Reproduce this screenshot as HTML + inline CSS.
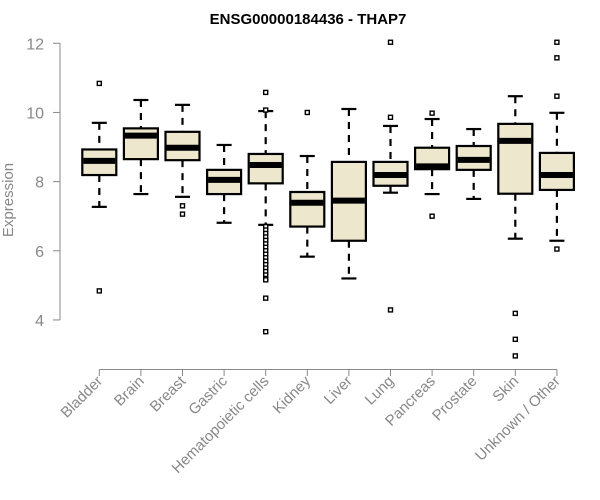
<!DOCTYPE html>
<html><head><meta charset="utf-8"><style>
body{margin:0;background:#fff;}
svg{display:block;font-family:"Liberation Sans",Arial,sans-serif;}
</style></head><body>
<svg id="chart" width="600" height="500" viewBox="0 0 600 500">
<text x="308" y="24" text-anchor="middle" font-weight="bold" font-size="15" fill="#000">ENSG00000184436 - THAP7</text>
<text transform="translate(13,200) rotate(-90)" text-anchor="middle" font-size="15" fill="#888">Expression</text>
<g id="plot"></g>
</svg>
<script>
const categories=["Bladder","Brain","Breast","Gastric","Hematopoietic cells","Kidney","Liver","Lung","Pancreas","Prostate","Skin","Unknown / Other"];
const whiskerLow=[7.27,7.64,7.56,6.81,6.75,5.83,5.20,7.68,7.64,7.50,6.35,6.29];
const boxLow=[8.19,8.65,8.62,7.64,7.95,6.70,6.29,7.88,8.36,8.34,7.65,7.76];
const medians=[8.60,9.33,8.98,8.05,8.48,7.39,7.45,8.19,8.44,8.63,9.18,8.19];
const boxHigh=[8.93,9.54,9.44,8.34,8.80,7.70,8.57,8.57,8.98,9.03,9.67,8.83];
const whiskerHigh=[9.70,10.36,10.22,9.06,10.04,8.74,10.10,9.61,9.81,9.52,10.47,9.99];
const outliers=[[10.84,4.84],[],[7.30,7.06],[],[10.58,10.07,6.70,6.6,6.5,6.4,6.3,6.2,6.1,6.0,5.9,5.8,5.7,5.6,5.5,5.4,5.3,5.2,5.16,4.63,3.66],[10.0],[],[12.03,9.86,4.29],[9.98,7.0],[],[4.19,3.44,2.96],[12.03,11.58,10.47,6.05]];
const yTicks=[4,6,8,10,12];
const NS="http://www.w3.org/2000/svg";
const g=document.getElementById("plot");
const yScale=v=>43.3+(12-v)*34.58;
const xScale=i=>99.3+41.6*i;
function mk(tag,attrs,parent){const e=document.createElementNS(NS,tag);for(const k in attrs)e.setAttribute(k,attrs[k]);(parent||g).appendChild(e);return e;}
// y axis
const ya=mk("g",{});


mk("line",{x1:60,x2:60,y1:yScale(12),y2:yScale(4),stroke:"#888","stroke-width":1},ya);
yTicks.forEach(t=>{
  mk("line",{x1:53,x2:60,y1:yScale(t),y2:yScale(t),stroke:"#888"},ya);
  const tx=mk("text",{x:44,y:yScale(t)+6,"text-anchor":"end","font-size":16,fill:"#888"},ya);
  tx.textContent=t;
  
  
});
// x axis
const xa=mk("g",{});


mk("line",{x1:xScale(0),x2:xScale(categories.length-1),y1:369.5,y2:369.5,stroke:"#888"},xa);
categories.forEach((c,i)=>{
  const x=xScale(i);
  mk("line",{x1:x,x2:x,y1:369.5,y2:376,stroke:"#888"},xa);
  const tx=mk("text",{transform:`translate(${x+4},${382}) rotate(-45)`,"text-anchor":"end","font-size":15,fill:"#888"},xa);
  tx.textContent=c;
  
  
});
// boxes
categories.forEach((c,i)=>{
  const x=xScale(i);
  const bg=mk("g",{});
  
  
  mk("line",{x1:x,x2:x,y1:yScale(whiskerHigh[i]),y2:yScale(boxHigh[i]),stroke:"#000","stroke-width":2.2,"stroke-dasharray":"7,6"},bg);
  mk("line",{x1:x,x2:x,y1:yScale(boxLow[i]),y2:yScale(whiskerLow[i]),stroke:"#000","stroke-width":2.2,"stroke-dasharray":"7,6"},bg);
  mk("line",{x1:x-7.5,x2:x+7.5,y1:yScale(whiskerHigh[i]),y2:yScale(whiskerHigh[i]),stroke:"#000","stroke-width":2.2},bg);
  mk("line",{x1:x-7.5,x2:x+7.5,y1:yScale(whiskerLow[i]),y2:yScale(whiskerLow[i]),stroke:"#000","stroke-width":2.2},bg);
  mk("rect",{x:x-17,y:yScale(boxHigh[i]),width:34,height:yScale(boxLow[i])-yScale(boxHigh[i]),fill:"#ede7cd",stroke:"#000","stroke-width":2.2},bg);
  mk("line",{x1:x-16,x2:x+16,y1:yScale(medians[i]),y2:yScale(medians[i]),stroke:"#000","stroke-width":6},bg);
  outliers[i].forEach(v=>{
    const o=mk("rect",{x:x-2,y:yScale(v)-2,width:4,height:4,fill:"#fff",stroke:"#000","stroke-width":1.4},bg);
    
    
  });
});
</script>
</body></html>
